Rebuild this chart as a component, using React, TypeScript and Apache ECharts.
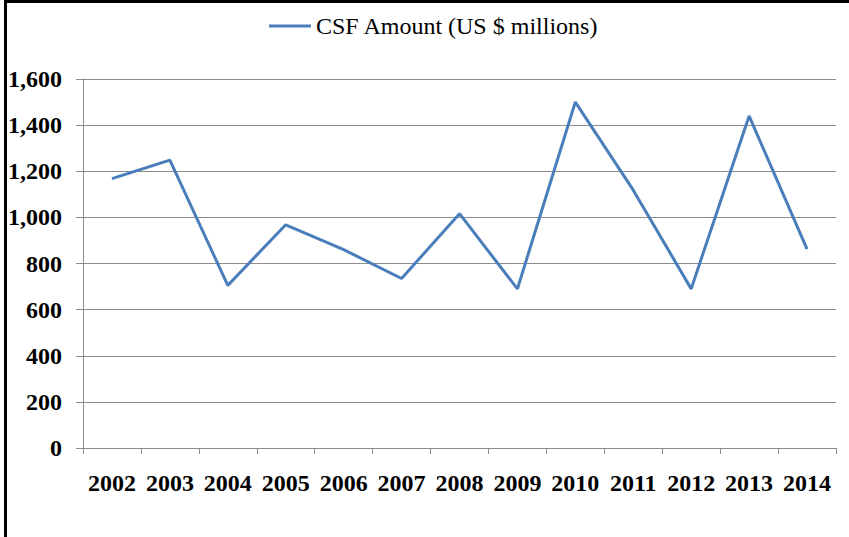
import React, { useEffect, useRef } from "react";
import * as echarts from "echarts";

const years = ["2002", "2003", "2004", "2005", "2006", "2007", "2008", "2009", "2010", "2011", "2012", "2013", "2014"];
const csfAmount = [1168, 1248, 705, 968, 860, 735, 1016, 690, 1500, 1118, 690, 1440, 862];
const seriesName = "CSF Amount (US $ millions)";

export default function App() {
  const ref = useRef<HTMLDivElement>(null);
  useEffect(() => {
    if (!ref.current) return;
    const chart = echarts.init(ref.current, undefined, { renderer: "svg" });
    const font = "'Liberation Serif', 'Times New Roman', serif";
    chart.setOption({
      animation: false,
      backgroundColor: "#ffffff",
      grid: { left: 83, right: 13, top: 79, bottom: 89, containLabel: false },
      legend: {
        data: [seriesName],
        left: 264,
        top: 9,
        itemWidth: 42,
        itemHeight: 3,
        icon: "rect",
        textStyle: { fontFamily: font, fontSize: 24, color: "#000" },
      },
      xAxis: {
        type: "category",
        data: years,
        boundaryGap: true,
        axisLine: { show: true, lineStyle: { color: "#8c8c8c", width: 1 } },
        axisTick: { show: true, length: 6, lineStyle: { color: "#8c8c8c" } },
        axisLabel: {
          interval: 0,
          margin: 23,
          fontFamily: font,
          fontWeight: "bold",
          fontSize: 24,
          color: "#000",
        },
      },
      yAxis: {
        type: "value",
        min: 0,
        max: 1600,
        interval: 200,
        axisLine: { show: true, lineStyle: { color: "#8c8c8c", width: 1 } },
        axisTick: { show: true, length: 7, lineStyle: { color: "#8c8c8c" } },
        splitLine: { show: true, lineStyle: { color: "#8c8c8c", width: 1 } },
        axisLabel: {
          margin: 21,
          fontFamily: font,
          fontWeight: "bold",
          fontSize: 24,
          color: "#000",
          formatter: (v: number) => v.toLocaleString("en-US"),
        },
      },
      series: [
        {
          name: seriesName,
          type: "line",
          data: csfAmount,
          symbol: "none",
          lineStyle: { color: "#4A7EBB", width: 3 },
          itemStyle: { color: "#4A7EBB" },
        },
      ],
      graphic: [
        { type: "rect", shape: { x: 4, y: 0, width: 845, height: 3 }, style: { fill: "#000" } },
        { type: "rect", shape: { x: 4, y: 0, width: 3, height: 537 }, style: { fill: "#000" } },
      ],
    });
    return () => chart.dispose();
  }, []);
  return (
    <div
      ref={ref}
      style={{ position: "fixed", left: 0, top: 0, width: 849, height: 537 }}
    />
  );
}
